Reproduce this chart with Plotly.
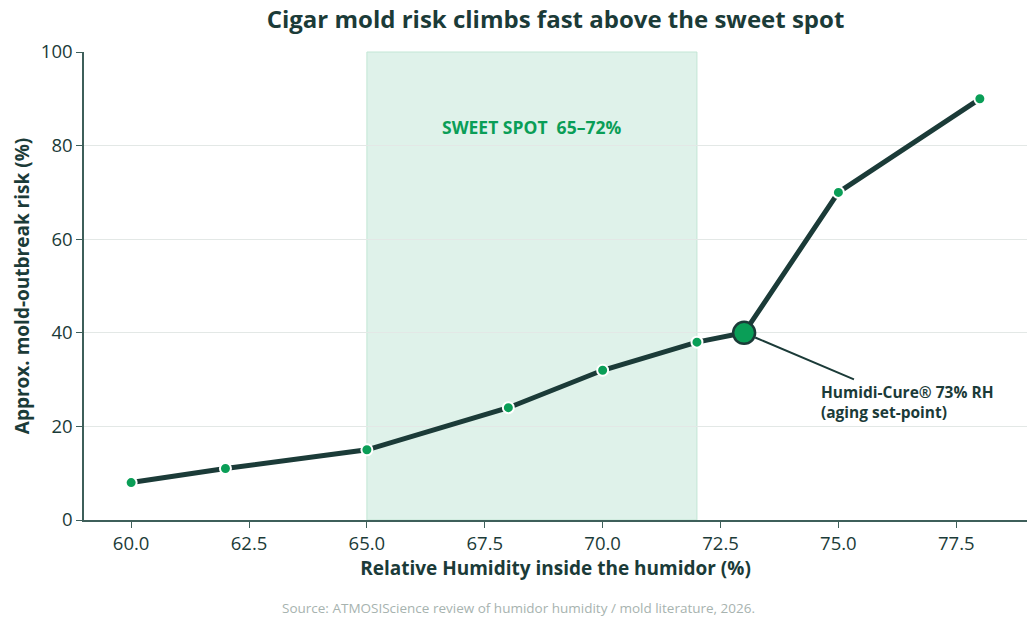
import plotly.graph_objects as go

# Data
humidity = [60, 62, 65, 68, 70, 72, 73, 75, 78]
risk = [8, 11, 15, 24, 32, 38, 40, 70, 90]
sweet_low, sweet_high = 65, 72
highlight_x, highlight_y = 73, 40
x_ticks = [60.0, 62.5, 65.0, 67.5, 70.0, 72.5, 75.0, 77.5]
y_ticks = [0, 20, 40, 60, 80, 100]

DARK = "#1b3b38"
GREEN = "#0a9e57"
FONT = "'Open Sans', 'Noto Sans', sans-serif"

fig = go.Figure()

fig.add_vrect(x0=sweet_low, x1=sweet_high, fillcolor="#dff2ea", opacity=1,
              line=dict(color="#c3e6d5", width=1), layer="below")

fig.add_trace(go.Scatter(
    x=humidity, y=risk, mode="lines+markers",
    line=dict(color=DARK, width=5),
    marker=dict(size=11, color=GREEN, line=dict(color="white", width=2)),
    hoverinfo="skip", showlegend=False,
))
fig.add_trace(go.Scatter(
    x=[highlight_x], y=[highlight_y], mode="markers",
    marker=dict(size=22, color=GREEN, line=dict(color=DARK, width=2.5)),
    hoverinfo="skip", showlegend=False,
))

fig.add_annotation(x=(sweet_low + sweet_high) / 2, y=84, text="<b>SWEET SPOT  65–72%</b>",
                   showarrow=False, font=dict(family=FONT, size=17.5, color=GREEN))

fig.add_annotation(x=highlight_x, y=highlight_y,
                   text="<b>Humidi-Cure® 73% RH<br>(aging set-point)</b>",
                   align="left", showarrow=True, arrowhead=0, arrowwidth=2,
                   arrowcolor=DARK, ax=163, ay=69, standoff=12,
                   font=dict(family=FONT, size=15.5, color=DARK))

fig.add_annotation(x=0.461, y=-0.188, xref="paper", yref="paper", yanchor="middle",
                   text="Source: ATMOSIScience review of humidor humidity / mold literature, 2026.",
                   showarrow=False, font=dict(family=FONT, size=13.5, color="#a7b3af"))

fig.update_layout(
    width=1036, height=628,
    margin=dict(l=84, r=9, t=52, b=108),
    paper_bgcolor="white", plot_bgcolor="white",
    font=dict(family=FONT, color=DARK),
    title=dict(text="<b>Cigar mold risk climbs fast above the sweet spot</b>",
               x=0.5, xref="paper", xanchor="center",
               y=1 - 20 / 628, yref="container", yanchor="middle",
               font=dict(family=FONT, size=24, color=DARK)),
)
fig.update_xaxes(range=[59, 79], tickvals=x_ticks,
                 ticktext=[f"{v:.1f}" for v in x_ticks],
                 showgrid=False, zeroline=False,
                 showline=True, linecolor="#3e5f5a", linewidth=1.5,
                 ticks="outside", ticklen=6, tickcolor="#3e5f5a",
                 tickfont=dict(size=18.5, color=DARK),
                 title=dict(text="<b>Relative Humidity inside the humidor (%)</b>",
                            font=dict(size=19, color=DARK), standoff=6))
fig.update_yaxes(range=[0, 100], tickvals=y_ticks,
                 showgrid=True, gridcolor="#e3e8e6", gridwidth=1, zeroline=False,
                 showline=True, linecolor="#3e5f5a", linewidth=1.5,
                 ticks="outside", ticklen=6, tickcolor="#3e5f5a",
                 tickfont=dict(size=18.5, color=DARK),
                 title=dict(text="<b>Approx. mold-outbreak risk (%)</b>",
                            font=dict(size=19, color=DARK), standoff=6))

fig.write_html("out.html")
